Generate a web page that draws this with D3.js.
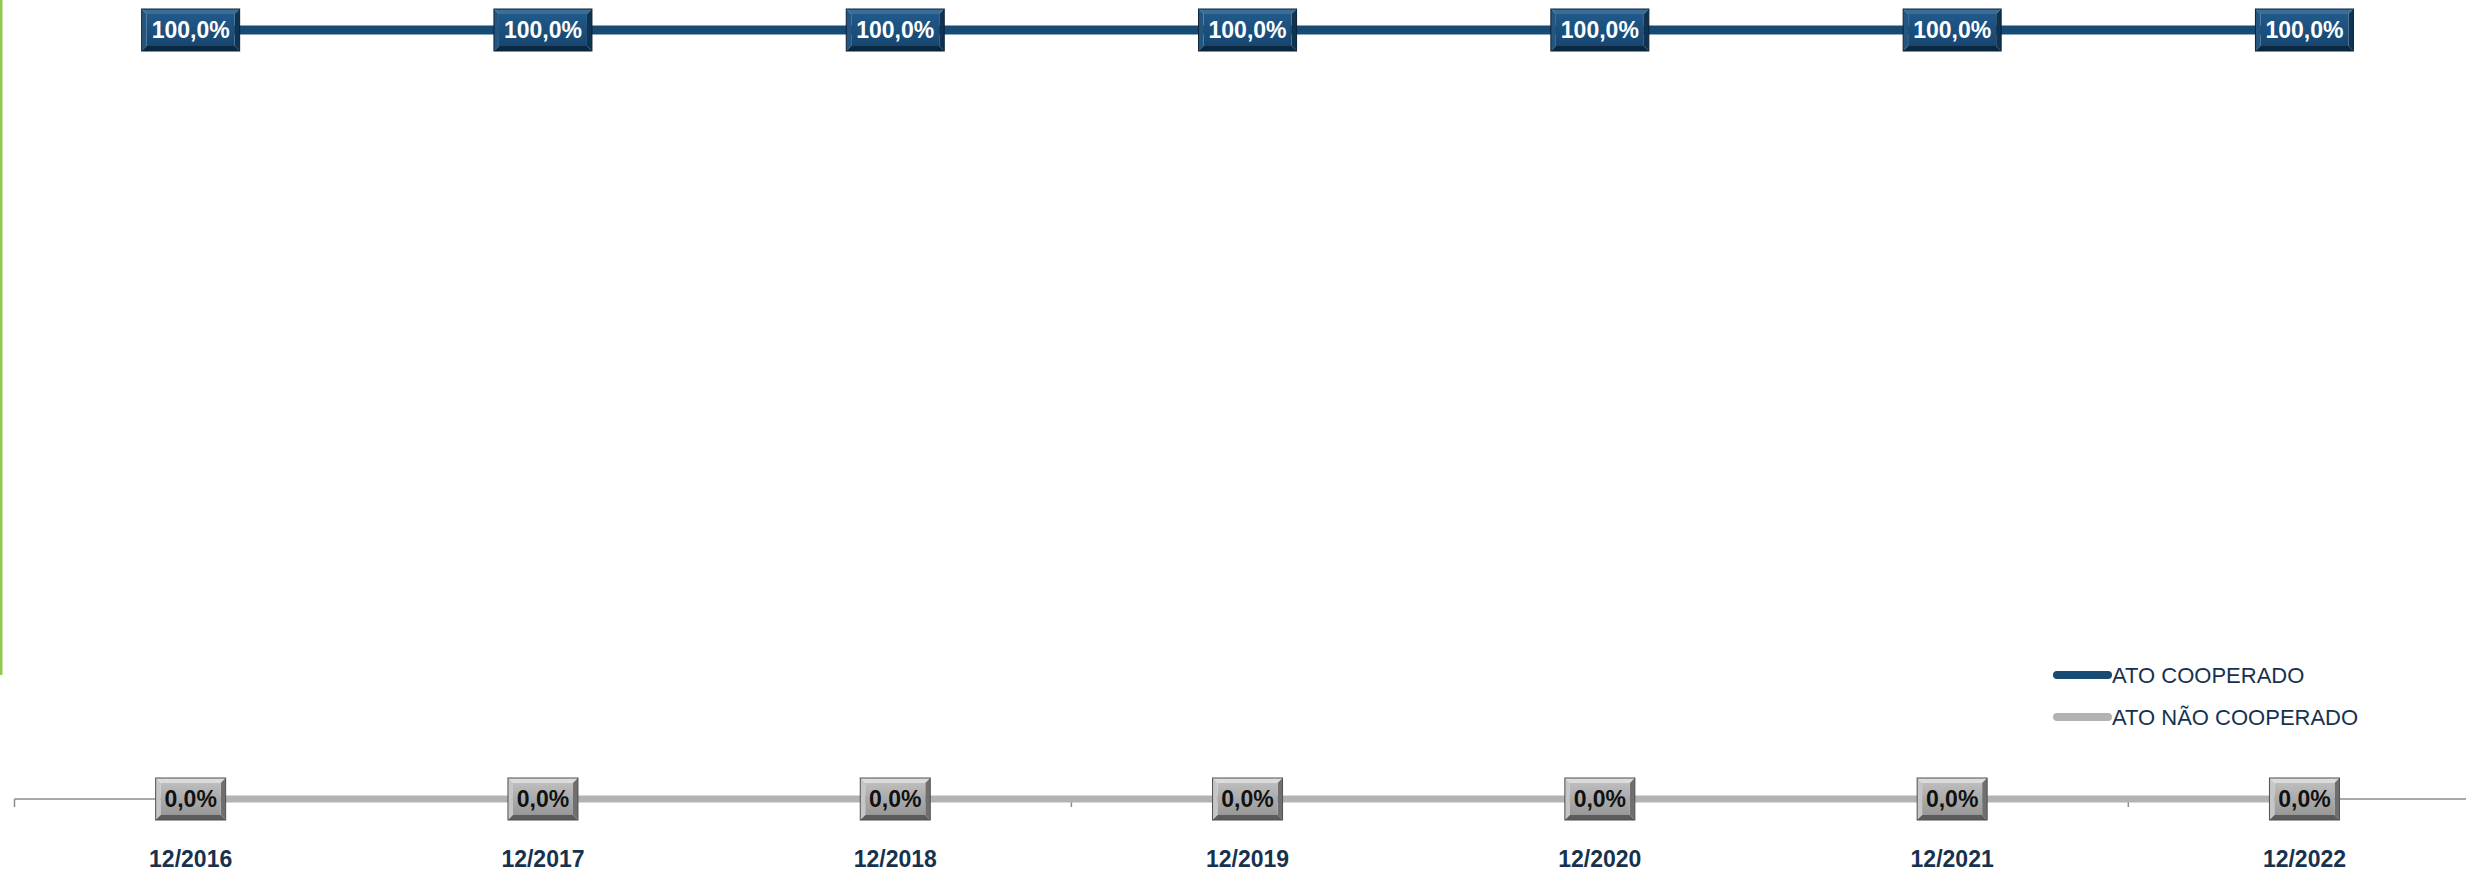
<!DOCTYPE html>
<html>
<head>
<meta charset="utf-8">
<script src="https://cdn.jsdelivr.net/npm/d3@7/dist/d3.min.js"></script>
<style>
  html, body { margin: 0; padding: 0; background: #ffffff; overflow: hidden; }
  svg { display: block; }
</style>
</head>
<body>
<svg id="chart" width="2466" height="872"></svg>
<script>
// ---- data ----
const categories = ["12/2016", "12/2017", "12/2018", "12/2019", "12/2020", "12/2021", "12/2022"];
const atoCooperado = [1, 1, 1, 1, 1, 1, 1];
const atoNaoCooperado = [0, 0, 0, 0, 0, 0, 0];
const seriesNames = ["ATO COOPERADO", "ATO NÃO COOPERADO"];
const tickEvery = 3;

// ---- layout ----
const W = 2466, H = 872;
const plotLeft = 14.5, bandW = 352.3;
const yTop = 30, yBottom = 799;
const FONT = "'Liberation Sans', Arial, sans-serif";

const svg = d3.select("#chart");

const x = d3.scaleBand().domain(categories)
  .range([plotLeft, plotLeft + bandW * categories.length]).padding(0);
const y = d3.scaleLinear().domain([0, 1]).range([yBottom, yTop]);

const fmt = v => (v * 100).toFixed(1).replace(".", ",") + "%";

// gradients
const defs = svg.append("defs");
function grad(id, c1, c2) {
  const g = defs.append("linearGradient").attr("id", id)
    .attr("x1", 0).attr("y1", 0).attr("x2", 0).attr("y2", 1);
  g.append("stop").attr("offset", "0%").attr("stop-color", c1);
  g.append("stop").attr("offset", "100%").attr("stop-color", c2);
}
grad("faceBlue", "#20598a", "#174670");
grad("faceGrey", "#bdbdbd", "#989898");

// green decorative vertical line at left
svg.append("line")
  .attr("x1", 1.2).attr("x2", 1.2).attr("y1", 0).attr("y2", 675)
  .attr("stroke", "#92c84a").attr("stroke-width", 2.5);

// ---- category axis ----
const axisG = svg.append("g").attr("transform", `translate(0,${yBottom})`);
axisG.append("line")
  .attr("x1", x(categories[0])).attr("x2", W + 20)
  .attr("y1", 0).attr("y2", 0)
  .attr("stroke", "#8c8c8c").attr("stroke-width", 1.5);
const tickCats = categories.filter((c, i) => i % tickEvery === 0);
axisG.selectAll("line.tick").data(tickCats).join("line")
  .attr("class", "tick")
  .attr("x1", d => x(d)).attr("x2", d => x(d))
  .attr("y1", 0).attr("y2", 8)
  .attr("stroke", "#8c8c8c").attr("stroke-width", 1.5);

svg.append("g").selectAll("text").data(categories).join("text")
  .attr("x", d => x(d) + x.bandwidth() / 2)
  .attr("y", 867)
  .attr("text-anchor", "middle")
  .attr("font-family", FONT).attr("font-weight", "bold").attr("font-size", 23)
  .attr("fill", "#17324f")
  .text(d => d);

// ---- lines ----
const line = d3.line()
  .x((d, i) => x(categories[i]) + x.bandwidth() / 2)
  .y(d => y(d));

svg.append("path").datum(atoNaoCooperado)
  .attr("d", line).attr("fill", "none")
  .attr("stroke", "#b3b3b3").attr("stroke-width", 7);

svg.append("path").datum(atoCooperado)
  .attr("d", line).attr("fill", "none")
  .attr("stroke", "#174b73").attr("stroke-width", 9);

// ---- bevelled data labels ----
function drawLabels(values, style) {
  const g = svg.append("g");
  values.forEach((v, i) => {
    const cx = x(categories[i]) + x.bandwidth() / 2;
    const cy = y(v);
    const lg = g.append("g");
    const t = lg.append("text")
      .attr("font-family", FONT).attr("font-weight", "bold").attr("font-size", 23)
      .attr("fill", style.text).attr("text-anchor", "middle")
      .text(fmt(v));
    const tw = t.node().getComputedTextLength();
    const w = Math.round(tw + style.pad * 2), h = 42, b = 5;
    const x0 = cx - w / 2, y0 = cy - h / 2;
    const poly = (pts, fill) => lg.insert("polygon", "text")
      .attr("points", pts.map(p => [x0 + p[0], y0 + p[1]].join(",")).join(" "))
      .attr("fill", fill);
    poly([[0,0],[w,0],[w-b,b],[b,b]], style.top);
    poly([[0,0],[b,b],[b,h-b],[0,h]], style.left);
    poly([[w,0],[w,h],[w-b,h-b],[w-b,b]], style.right);
    poly([[0,h],[w,h],[w-b,h-b],[b,h-b]], style.bottom);
    lg.insert("rect", "text")
      .attr("x", x0 + b).attr("y", y0 + b)
      .attr("width", w - 2 * b).attr("height", h - 2 * b)
      .attr("fill", style.face);
    lg.insert("rect", "text")
      .attr("x", x0).attr("y", y0).attr("width", w).attr("height", h)
      .attr("fill", "none").attr("stroke", style.stroke).attr("stroke-width", 1);
    t.attr("x", cx).attr("y", cy + 8.3);
  });
}

drawLabels(atoNaoCooperado, {
  text: "#111111", pad: 9,
  top: "#dcdcdc", left: "#c6c6c6", right: "#6f6f6f", bottom: "#5c5c5c",
  face: "url(#faceGrey)", stroke: "#4f4f4f"
});
drawLabels(atoCooperado, {
  text: "#ffffff", pad: 10,
  top: "#3b6e97", left: "#255680", right: "#0f3350", bottom: "#0b2840",
  face: "url(#faceBlue)", stroke: "#0a2238"
});

// ---- legend ----
const legendColors = ["#174b73", "#b3b3b3"];
const leg = svg.append("g");
seriesNames.forEach((name, i) => {
  const ly = 675 + i * 42;
  leg.append("line")
    .attr("x1", 2057).attr("x2", 2108).attr("y1", ly).attr("y2", ly)
    .attr("stroke", legendColors[i]).attr("stroke-width", 8)
    .attr("stroke-linecap", "round");
  leg.append("text")
    .attr("x", 2112).attr("y", ly + 8)
    .attr("font-family", FONT).attr("font-size", 22)
    .attr("fill", "#17324f")
    .text(name);
});
</script>
</body>
</html>
